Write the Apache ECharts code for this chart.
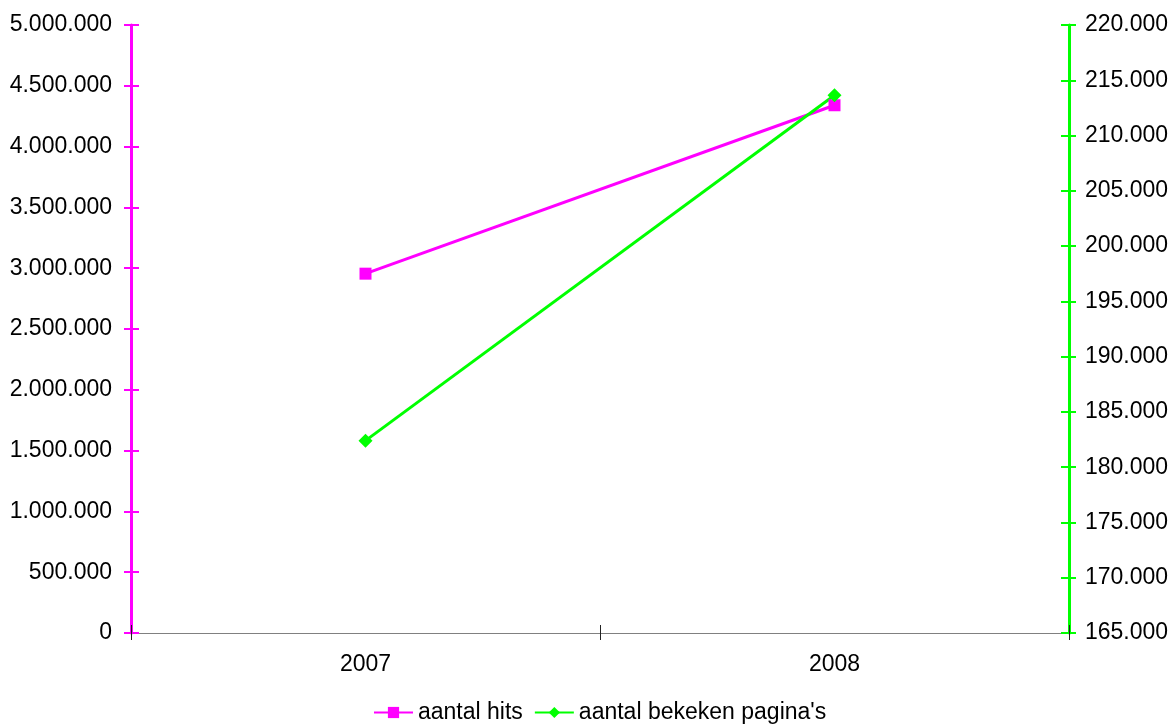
<!DOCTYPE html>
<html>
<head>
<meta charset="utf-8">
<script src="https://cdn.jsdelivr.net/npm/echarts@6/dist/echarts.min.js"></script>
<style>
  html, body { margin: 0; padding: 0; background: #fff; }
  #chart { width: 1176px; height: 728px; }
</style>
</head>
<body>
<div id="chart"></div>
<script>
const years = ['2007', '2008']
const hits = [2955000, 4340000]
const pageViews = [182400, 213650]

const dots = v => String(v).replace(/\B(?=(\d{3})+(?!\d))/g, '.')

const chart = echarts.init(document.getElementById('chart'))
const font = 'Liberation Sans, Arial, sans-serif'
const fs = 23

chart.setOption({
  animation: false,
  textStyle: { fontFamily: font },
  grid: { left: 131, right: 107, top: 25, bottom: 95 },
  legend: {
    left: 373,
    top: 701,
    padding: 0,
    itemWidth: 39,
    itemHeight: 14,
    itemGap: 11,
    textStyle: { fontSize: fs, color: '#000', fontFamily: font },
    data: ['aantal hits', "aantal bekeken pagina's"]
  },
  xAxis: [{
    type: 'category',
    data: years,
    boundaryGap: true,
    axisLine: { lineStyle: { color: '#222', width: 1 } },
    axisTick: { show: true, length: 7, lineStyle: { color: '#222' } },
    axisLabel: { fontSize: fs, color: '#000', margin: 20 }
  }, {
    type: 'category',
    data: years,
    position: 'top',
    axisLine: { lineStyle: { color: '#808080', width: 1 } },
    axisTick: { show: false },
    axisLabel: { show: false }
  }, {
    // upper half of the crossing ticks on the category axis
    type: 'category',
    data: years,
    position: 'bottom',
    axisLine: { show: false },
    axisTick: { show: true, inside: true, length: 8, lineStyle: { color: '#222' } },
    axisLabel: { show: false }
  }],
  yAxis: [{
    type: 'value',
    min: 0, max: 5000000, interval: 500000,
    position: 'left',
    axisLine: { show: true, lineStyle: { color: '#ff00ff', width: 3 } },
    axisTick: { show: true, length: 7, lineStyle: { color: '#ff00ff', width: 2 } },
    axisLabel: { fontSize: fs, color: '#000', margin: 19, formatter: dots },
    splitLine: { show: false }
  }, {
    type: 'value',
    min: 165000, max: 220000, interval: 5000,
    position: 'right',
    axisLine: { show: true, lineStyle: { color: '#00ff00', width: 3 } },
    axisTick: { show: true, length: 7, lineStyle: { color: '#00ff00', width: 2 } },
    axisLabel: { fontSize: fs, color: '#000', margin: 16, formatter: dots },
    splitLine: { show: false }
  }, {
    // inner half of the crossing ticks, left
    type: 'value',
    min: 0, max: 5000000, interval: 500000,
    position: 'left',
    axisLine: { show: false },
    axisTick: { show: true, inside: true, length: 8, lineStyle: { color: '#ff00ff', width: 2 } },
    axisLabel: { show: false },
    splitLine: { show: false }
  }, {
    // inner half of the crossing ticks, right
    type: 'value',
    min: 165000, max: 220000, interval: 5000,
    position: 'right',
    axisLine: { show: false },
    axisTick: { show: true, inside: true, length: 8, lineStyle: { color: '#00ff00', width: 2 } },
    axisLabel: { show: false },
    splitLine: { show: false }
  }],
  series: [{
    name: 'aantal hits',
    type: 'line',
    yAxisIndex: 0,
    data: hits,
    symbol: 'rect',
    symbolSize: 12,
    lineStyle: { color: '#ff00ff', width: 3 },
    itemStyle: { color: '#ff00ff' }
  }, {
    name: "aantal bekeken pagina's",
    type: 'line',
    yAxisIndex: 1,
    data: pageViews,
    symbol: 'diamond',
    symbolSize: 14,
    lineStyle: { color: '#00ff00', width: 3 },
    itemStyle: { color: '#00ff00' }
  }]
})
</script>
</body>
</html>
